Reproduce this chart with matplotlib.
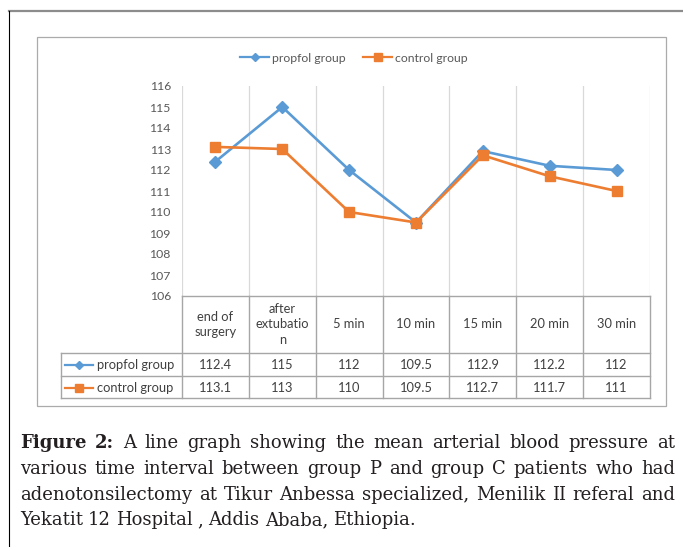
import matplotlib
matplotlib.use("Agg")
import matplotlib.pyplot as plt
from matplotlib.lines import Line2D
from matplotlib.patches import Rectangle
from matplotlib.transforms import blended_transform_factory

W, H = 683, 547

categories = ['end of surgery', 'after extubation', '5 min', '10 min', '15 min', '20 min', '30 min']
header_labels = ['end of\nsurgery', 'after\nextubatio\nn', '5 min', '10 min', '15 min', '20 min', '30 min']
propofol = [112.4, 115, 112, 109.5, 112.9, 112.2, 112]
control = [113.1, 113, 110, 109.5, 112.7, 111.7, 111]
propofol_txt = ['112.4', '115', '112', '109.5', '112.9', '112.2', '112']
control_txt = ['113.1', '113', '110', '109.5', '112.7', '111.7', '111']
series_names = ['propfol group', 'control group']

caption = [
    [('Figure', True), ('2:', True), ('A', False), ('line', False), ('graph', False), ('showing', False),
     ('the', False), ('mean', False), ('arterial', False), ('blood', False), ('pressure', False), ('at', False)],
    [(w, False) for w in 'various time interval between group P and group C patients who had'.split()],
    [(w, False) for w in 'adenotonsilectomy at Tikur Anbessa specialized, Menilik II referal and'.split()],
    [(w, False) for w in 'Yekatit 12 Hospital , Addis Ababa, Ethiopia.'.split()],
]

BLUE = '#5B9BD5'
ORANGE = '#ED7D31'
CHART_FONT = ['Lato', 'DejaVu Sans']
SERIF = ['DejaVu Serif']


def fx(x):
    return x / W


def fy(y):
    return 1 - y / H


def hline(fig, x0, x1, y, color, lw=1.0):
    fig.add_artist(Line2D([fx(x0), fx(x1)], [fy(y), fy(y)], color=color, lw=lw))


def vline(fig, x, y0, y1, color, lw=1.0):
    fig.add_artist(Line2D([fx(x), fx(x)], [fy(y0), fy(y1)], color=color, lw=lw))


def caption_line(fig, words, y, x0, x1, size, justify=True):
    r = fig.canvas.get_renderer()
    items = []
    for w, bold in words:
        t = fig.text(0, fy(y), w, fontsize=size, family=SERIF, color='#231F20',
                     fontweight='bold' if bold else 'normal', va='baseline', ha='left')
        items.append((t, t.get_window_extent(r).width))
    total = sum(w for _, w in items)
    if justify and len(items) > 1:
        gap = (x1 - x0 - total) / (len(items) - 1)
    else:
        gap = size * 100 / 72 * 0.28
    x = x0
    for t, w in items:
        t.set_x(fx(x))
        x += w + gap


def main():
    fig = plt.figure(figsize=(W / 100, H / 100), dpi=100)

    # outer panel frame and inner chart box
    hline(fig, 9, W, 11, '#8C8C8C', lw=1.6)
    vline(fig, 9, 11, H, '#000000', lw=0.8)
    fig.add_artist(Rectangle((fx(37), fy(406)), fx(666) - fx(37), fy(37) - fy(406),
                             fill=False, edgecolor='#ABABAB', lw=0.9))

    left, right, top, bottom = 182, 650, 86, 296
    ax = fig.add_axes([fx(left), fy(bottom), fx(right) - fx(left), fy(top) - fy(bottom)])
    x = list(range(len(categories)))
    ax.plot(x, propofol, color=BLUE, lw=1.9, marker='D', ms=6.5, label=series_names[0], zorder=3)
    ax.plot(x, control, color=ORANGE, lw=1.9, marker='s', ms=7.5, label=series_names[1], zorder=3)
    ax.set_xlim(-0.5, len(categories) - 0.5)
    ax.set_ylim(106, 116)
    ax.set_yticks(range(106, 117))
    ax.set_xticks([])
    ax.tick_params(axis='y', length=0, pad=8, labelsize=8.8, labelcolor='#595959')
    for lab in ax.get_yticklabels():
        lab.set_family(CHART_FONT)
    for s in ax.spines.values():
        s.set_visible(False)
    for b in range(len(categories) + 1):
        ax.axvline(b - 0.5, color='#D9D9D9', lw=0.9, zorder=1)

    # data table under the plot
    tcol = '#A6A6A6'
    tr = blended_transform_factory(ax.transData, fig.transFigure)
    hline(fig, left, right, 296, tcol)
    hline(fig, 61, right, 353, tcol)
    hline(fig, 61, right, 376, tcol)
    hline(fig, 61, right, 398, tcol)
    vline(fig, 61, 353, 398, tcol)
    for b in range(len(categories) + 1):
        bx = left + (right - left) * b / len(categories)
        vline(fig, bx, 296, 398, tcol)
    for i in x:
        ax.text(i, fy(324.5), header_labels[i], transform=tr, ha='center', va='center',
                fontsize=9.3, family=CHART_FONT, color='#404040', linespacing=1.35)
        ax.text(i, fy(365), propofol_txt[i], transform=tr, ha='center', va='center',
                fontsize=9.3, family=CHART_FONT, color='#404040')
        ax.text(i, fy(388), control_txt[i], transform=tr, ha='center', va='center',
                fontsize=9.3, family=CHART_FONT, color='#404040')

    # row labels with series keys
    for row_y, name, col, mk, ms in [(365, series_names[0], BLUE, 'D', 4.5), (388, series_names[1], ORANGE, 's', 6)]:
        fig.add_artist(Line2D([fx(65), fx(93)], [fy(row_y), fy(row_y)], color=col, lw=1.6))
        fig.add_artist(Line2D([fx(79)], [fy(row_y)], color=col, marker=mk, ms=ms))
        fig.text(fx(97), fy(row_y), name, ha='left', va='center', fontsize=9.3,
                 family=CHART_FONT, color='#404040')

    handles = [Line2D([], [], color=BLUE, lw=1.6, marker='D', ms=4.5),
               Line2D([], [], color=ORANGE, lw=1.6, marker='s', ms=6)]
    fig.legend(handles, series_names, loc='center', bbox_to_anchor=(fx(354), fy(58)),
               ncol=2, frameon=False, handlelength=2.4, handletextpad=0.25, columnspacing=1.4,
               prop={'family': CHART_FONT, 'size': 8.8}, labelcolor='#595959')

    # caption
    baselines = [448, 474, 500, 525]
    for i, words in enumerate(caption):
        caption_line(fig, words, baselines[i], 20, 675, 13, justify=i < len(caption) - 1)

    fig.savefig('out.png', dpi=100)


if __name__ == "__main__":
    main()
